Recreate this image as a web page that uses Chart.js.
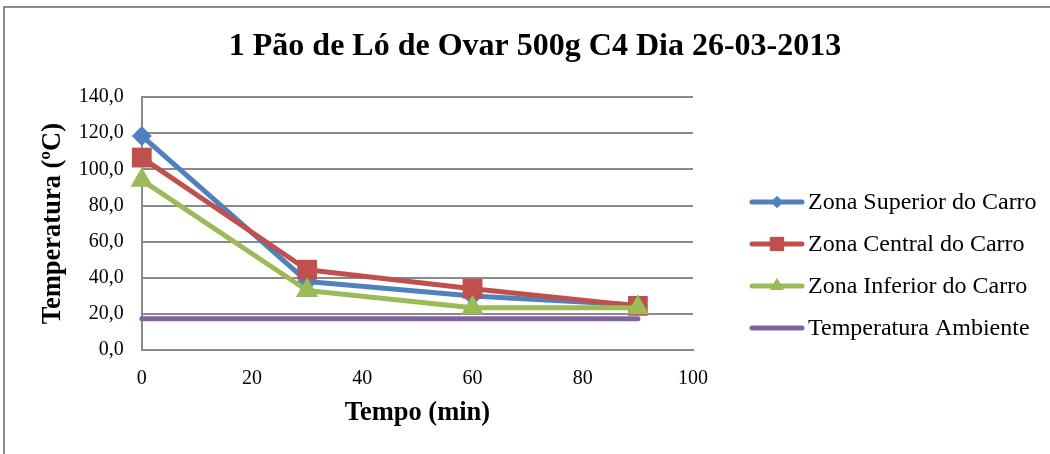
<!DOCTYPE html>
<html>
<head>
<meta charset="utf-8">
<script src="https://cdn.jsdelivr.net/npm/chart.js@4.4.1/dist/chart.umd.min.js"></script>
<style>
  html, body { margin: 0; padding: 0; background: #fff; }
  #wrap { width: 1050px; height: 454px; }
</style>
</head>
<body>
<div id="wrap"><canvas id="grafico"></canvas></div>
<script>
// medições de temperatura por zona do carro (ºC) ao longo do tempo (min)
const tempo = [0, 30, 60, 90];
const zonaSuperior = [118.5, 38, 30, 25];
const zonaCentral = [106.5, 44.5, 34, 24.5];
const zonaInferior = [94, 33, 23.5, 23.5];
const ambiente = [17.4, 17.4, 17.4, 17.4];

const nomes = ['Zona Superior do Carro', 'Zona Central do Carro', 'Zona Inferior do Carro', 'Temperatura Ambiente'];
const cores = ['#4F81BD', '#C0504D', '#9BBB59', '#8064A2'];
const marcadores = ['rectRot', 'rect', 'triangle', false];
const raios = [10, 14, 13, 0];
const raiosLegenda = [6, 10, 8, 0];

const ticksX = [0, 20, 40, 60, 80, 100];
const ticksY = [0, 20, 40, 60, 80, 100, 120, 140];

const titulo = '1 Pão de Ló de Ovar 500g C4 Dia 26-03-2013';

const FONTE = "'Liberation Serif', 'Times New Roman', serif";
const GRELHA = '#8a8a8a';

const series = [zonaSuperior, zonaCentral, zonaInferior, ambiente];

const datasets = series.map((valores, i) => ({
    label: nomes[i],
    data: valores.map((v, k) => ({ x: tempo[k], y: v })),
    borderColor: cores[i],
    backgroundColor: cores[i],
    borderWidth: 5,
    borderCapStyle: 'round',
    borderJoinStyle: 'round',
    pointStyle: marcadores[i],
    pointRadius: raios[i],
    pointHoverRadius: raios[i],
    pointBorderWidth: 0,
    clip: false,
    order: series.length - i,
}));

// fundo, moldura (só topo e lado esquerdo ficam visíveis) e título centrado na largura toda
const moldura = {
    id: 'moldura',
    beforeDraw(chart) {
        const ctx = chart.ctx;
        ctx.save();
        ctx.fillStyle = '#fff';
        ctx.fillRect(0, 0, chart.width, chart.height);
        ctx.strokeStyle = '#8c8c8c';
        ctx.lineWidth = 2;
        ctx.beginPath();
        ctx.moveTo(4, chart.height);
        ctx.lineTo(4, 7);
        ctx.lineTo(chart.width, 7);
        ctx.stroke();

        ctx.fillStyle = '#000';
        ctx.font = 'bold 32px ' + FONTE;
        ctx.textAlign = 'center';
        ctx.textBaseline = 'middle';
        ctx.fillText(titulo, 535, 47);
        ctx.restore();
    }
};

// legenda à direita com linha + marcador
const legendaLateral = {
    id: 'legendaLateral',
    afterDraw(chart) {
        const ctx = chart.ctx;
        ctx.save();
        chart.data.datasets.forEach((ds, i) => {
            const y = 202 + i * 42;
            ctx.strokeStyle = ds.borderColor;
            ctx.lineWidth = 5;
            ctx.lineCap = 'round';
            ctx.beginPath();
            ctx.moveTo(752, y);
            ctx.lineTo(802, y);
            ctx.stroke();
            if (ds.pointStyle) {
                ctx.fillStyle = ds.backgroundColor;
                Chart.helpers.drawPoint(ctx, { pointStyle: ds.pointStyle, radius: raiosLegenda[i], rotation: 0, borderWidth: 0 }, 777, y);
                ctx.fill();
            }
            ctx.fillStyle = '#000';
            ctx.font = '24px ' + FONTE;
            ctx.textBaseline = 'middle';
            ctx.textAlign = 'left';
            ctx.fillText(ds.label, 808, y + 1);
        });
        ctx.restore();
    }
};

const formatar = v => v.toFixed(1).replace('.', ',');

new Chart(document.getElementById('grafico'), {
    type: 'line',
    data: { datasets },
    options: {
        responsive: true,
        maintainAspectRatio: false,
        animation: false,
        layout: { padding: { left: 20, right: 357, top: 97, bottom: 25 } },
        scales: {
            x: {
                type: 'linear',
                min: 0,
                max: 100,
                afterBuildTicks: s => { s.ticks = ticksX.map(v => ({ value: v })); },
                grid: { display: false, drawTicks: false },
                border: { display: true, color: GRELHA, width: 2 },
                ticks: { color: '#000', padding: 17, font: { family: FONTE, size: 20 } },
                title: {
                    display: true,
                    text: 'Tempo (min)',
                    color: '#000',
                    padding: { top: -11, bottom: 0 },
                    font: { family: FONTE, size: 26.5, weight: 'bold' }
                }
            },
            y: {
                min: 0,
                max: 140,
                afterBuildTicks: s => { s.ticks = ticksY.map(v => ({ value: v })); },
                grid: { color: GRELHA, lineWidth: 2, drawTicks: false },
                border: { display: true, color: GRELHA, width: 2 },
                ticks: { color: '#000', padding: 18, callback: v => formatar(v), font: { family: FONTE, size: 20 } },
                title: {
                    display: true,
                    text: 'Temperatura (ºC)',
                    color: '#000',
                    padding: { top: 17, bottom: -8 },
                    font: { family: FONTE, size: 26.5, weight: 'bold' }
                }
            }
        },
        plugins: {
            legend: { display: false },
            tooltip: { enabled: false },
            title: { display: false }
        }
    },
    plugins: [moldura, legendaLateral]
});
</script>
</body>
</html>
